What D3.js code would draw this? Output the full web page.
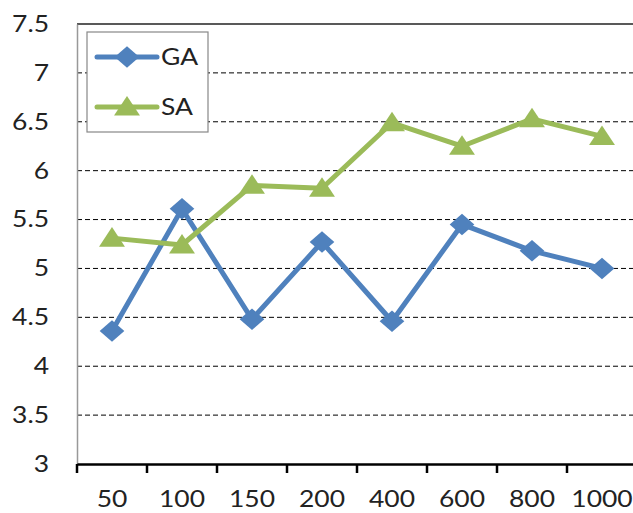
<!DOCTYPE html>
<html>
<head>
<meta charset="utf-8">
<script src="https://cdn.jsdelivr.net/npm/d3@7"></script>
<style>
  body { margin: 0; background: #fff; }
  text { font-family: Lato, "Open Sans", sans-serif; fill: #222; }
</style>
</head>
<body>
<div id="chart"></div>
<script>
// Data
const categories = ["50", "100", "150", "200", "400", "600", "800", "1000"];
const gaValues = [4.36, 5.61, 4.48, 5.27, 4.46, 5.45, 5.18, 5.0];
const saValues = [5.31, 5.24, 5.85, 5.82, 6.49, 6.25, 6.53, 6.35];
const yTicks = [3, 3.5, 4, 4.5, 5, 5.5, 6, 6.5, 7, 7.5];

const W = 633, H = 513;
const margin = { top: 24, right: -4, bottom: 49, left: 77 };
const width = W - margin.left - margin.right;
const height = H - margin.top - margin.bottom;
const sx = 1.15; // glyphs in the picture are a bit wide

const svg = d3.select("#chart")
    .append("svg")
    .attr("width", W)
    .attr("height", H)
    .append("g")
    .attr("transform", `translate(${margin.left},${margin.top})`);

const x = d3.scaleBand()
    .domain(categories)
    .range([0, width]);

const y = d3.scaleLinear()
    .domain([3, 7.5])
    .range([height, 0]);

// Dashed gridlines
svg.selectAll(".grid")
    .data(yTicks.filter(d => d > 3 && d < 7.5))
    .enter().append("line")
    .attr("x1", 0).attr("x2", width)
    .attr("y1", d => y(d)).attr("y2", d => y(d))
    .attr("stroke", "#000")
    .attr("stroke-width", 1)
    .attr("stroke-dasharray", "5,3");

// Top border
svg.append("line")
    .attr("x1", 0).attr("x2", width)
    .attr("y1", 0).attr("y2", 0)
    .attr("stroke", "#222").attr("stroke-width", 1.5);

// Left axis
const yAxis = svg.append("g")
    .call(d3.axisLeft(y).tickValues(yTicks).tickSize(0).tickFormat(d3.format("")));
yAxis.select(".domain").attr("stroke", "#999").attr("stroke-width", 1.5);
yAxis.selectAll("text")
    .attr("x", -28 / sx)
    .attr("transform", `scale(${sx},1)`)
    .style("font-size", "23px");

// Bottom axis
const xAxis = svg.append("g")
    .attr("transform", `translate(0,${height})`)
    .call(d3.axisBottom(x).tickSize(0).tickPadding(27));
xAxis.select(".domain").attr("stroke", "#000").attr("stroke-width", 2.5);
xAxis.selectAll("text")
    .attr("transform", `scale(${sx},1)`)
    .style("font-size", "23px");
xAxis.selectAll(".cat-tick")
    .data(categories)
    .enter().append("line")
    .attr("class", "cat-tick")
    .attr("x1", d => x(d)).attr("x2", d => x(d))
    .attr("y1", 0).attr("y2", 9)
    .attr("stroke", "#000").attr("stroke-width", 2.5);

const cx = (d, i) => x(categories[i]) + x.bandwidth() / 2;
const line = d3.line().x(cx).y(d => y(d));

const diamond = d3.symbol().type(d3.symbolSquare).size(230);
const triangle = d3.symbol().type(d3.symbolTriangle).size(220);

// GA series
svg.append("path")
    .datum(gaValues)
    .attr("fill", "none")
    .attr("stroke", "#4F81BD")
    .attr("stroke-width", 5)
    .attr("stroke-linejoin", "round")
    .attr("d", line);
svg.selectAll(".ga-pt")
    .data(gaValues)
    .enter().append("path")
    .attr("class", "ga-pt")
    .attr("d", diamond)
    .attr("fill", "#4F81BD")
    .attr("transform", (d, i) => `translate(${cx(d, i)},${y(d)}) scale(${sx},1) rotate(45)`);

// SA series
svg.append("path")
    .datum(saValues)
    .attr("fill", "none")
    .attr("stroke", "#9BBB59")
    .attr("stroke-width", 5)
    .attr("stroke-linejoin", "round")
    .attr("d", line);
svg.selectAll(".sa-pt")
    .data(saValues)
    .enter().append("path")
    .attr("class", "sa-pt")
    .attr("d", triangle)
    .attr("fill", "#9BBB59")
    .attr("transform", (d, i) => `translate(${cx(d, i)},${y(d) + 2}) scale(${sx},1)`);

// Legend
const legend = svg.append("g").attr("transform", "translate(10,8)");
legend.append("rect")
    .attr("width", 121).attr("height", 100)
    .attr("fill", "#fff")
    .attr("stroke", "#888").attr("stroke-width", 1.2);
const legendItems = [
    { name: "GA", color: "#4F81BD", sym: diamond, rot: 45 },
    { name: "SA", color: "#9BBB59", sym: triangle, rot: 0 }
];
legendItems.forEach((it, i) => {
    const ly = 25 + i * 50;
    legend.append("line")
        .attr("x1", 10).attr("x2", 70)
        .attr("y1", ly).attr("y2", ly)
        .attr("stroke", it.color).attr("stroke-width", 5)
        .attr("stroke-linecap", "round");
    legend.append("path")
        .attr("d", it.sym)
        .attr("fill", it.color)
        .attr("transform", `translate(40,${ly + (it.rot ? 0 : 2)}) scale(${sx},1) rotate(${it.rot})`);
    legend.append("text")
        .attr("x", 74 / sx).attr("y", ly)
        .attr("dy", "0.36em")
        .attr("transform", `scale(${sx},1)`)
        .style("font-size", "23px")
        .text(it.name);
});
</script>
</body>
</html>
